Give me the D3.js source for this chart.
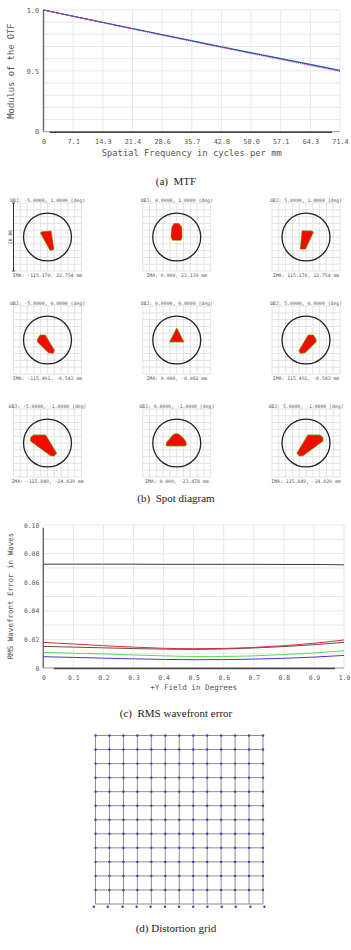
<!DOCTYPE html>
<html>
<head>
<meta charset="utf-8">
<script src="https://cdn.jsdelivr.net/npm/d3@7"></script>
<style>
  body { margin: 0; background: #fff; }
  svg { display: block; }
  .mono { font-family: "DejaVu Sans Mono", "Liberation Mono", monospace; fill: #555; }
  .caption { font-family: "Liberation Serif", "Times New Roman", serif; font-size: 11px; fill: #222; }
</style>
</head>
<body>
<svg></svg>
<script>
// (a) MTF
let mtfFreqs = [0, 7.14, 14.28, 21.42, 28.56, 35.7, 42.84, 49.98, 57.12, 64.26, 71.4]
let mtfTickLabels = ["0", "7.1", "14.3", "21.4", "28.6", "35.7", "42.8", "50.0", "57.1", "64.3", "71.4"]
let mtfYTicks = [0, 0.5, 1.0]
let mtfYLabels = ["0", "0.5", "1.0"]
let mtfYGrid = [0.1, 0.2, 0.3, 0.4, 0.5, 0.6, 0.7, 0.8, 0.9, 1.0]
let mtfCyan    = [1.0, 0.950, 0.899, 0.849, 0.799, 0.750, 0.700, 0.651, 0.603, 0.555, 0.506]
let mtfBlue    = [1.0, 0.949, 0.898, 0.847, 0.797, 0.747, 0.697, 0.648, 0.600, 0.552, 0.503]
let mtfBlack   = [1.0, 0.948, 0.897, 0.846, 0.795, 0.745, 0.695, 0.646, 0.598, 0.549, 0.500]
let mtfMagenta = [1.0, 0.947, 0.895, 0.843, 0.792, 0.741, 0.691, 0.641, 0.592, 0.543, 0.494]

// (b) spot diagram
let spotObj = ["OBJ: -5.0000, 1.0000 (deg)", "OBJ: 0.0000, 1.0000 (deg)", "OBJ: 5.0000, 1.0000 (deg)",
               "OBJ: -5.0000, 0.0000 (deg)", "OBJ: 0.0000, 0.0000 (deg)", "OBJ: 5.0000, 0.0000 (deg)",
               "OBJ: -5.0000, -1.0000 (deg)", "OBJ: 0.0000, -1.0000 (deg)", "OBJ: 5.0000, -1.0000 (deg)"]
let spotIma = ["IMA: -115.170, 22.754 mm", "IMA: 0.000, 23.139 mm", "IMA: 115.170, 22.754 mm",
               "IMA: -115.491, -0.543 mm", "IMA: 0.000, -0.082 mm", "IMA: 115.491, -0.543 mm",
               "IMA: -115.849, -24.029 mm", "IMA: 0.000, -23.478 mm", "IMA: 115.849, -24.029 mm"]
// spot outlines in micrometres, relative to chief ray
let spotShapes = [
  [[-2.0, 1.2], [-1.6, 1.5], [1.0, 1.7], [1.8, -3.6], [0.8, -3.9]],
  [[-0.8, 3.9], [0.6, 3.9], [1.4, 2.8], [1.5, 0], [1.2, -0.9], [-1.2, -0.9], [-1.6, 0], [-1.4, 2.8]],
  [[2.1, 1.4], [1.7, 1.7], [-1.1, 1.8], [-1.6, -3.5], [-0.2, -3.5]],
  [[-2.9, 0.2], [-2.1, 1.4], [-0.7, 1.4], [2.0, -3.1], [1.6, -3.9], [0.3, -3.7], [-2.9, -0.5]],
  [[0, 3.4], [-2.0, -0.5], [2.0, -0.5]],
  [[2.9, 0.2], [2.1, 1.4], [0.7, 1.4], [-2.0, -3.1], [-1.6, -3.9], [-0.3, -3.7], [2.9, -0.5]],
  [[-4.9, 1.6], [-4.1, 2.3], [-0.6, 2.3], [2.6, -3.0], [1.8, -3.8], [0.8, -3.6], [-4.9, 0.6]],
  [[-3.1, -0.7], [-2.9, 0.2], [-2.0, 1.2], [-1.0, 2.4], [-0.2, 2.7], [0.6, 2.5], [1.8, 1.5], [2.6, 0.4], [2.8, -0.5], [2.4, -0.8], [-2.6, -0.8]],
  [[4.9, 1.6], [4.1, 2.3], [0.6, 2.3], [-2.6, -3.0], [-1.8, -3.8], [-0.8, -3.6], [4.9, 0.6]]
]
let spotGrid = [-10, -8, -6, -4, -2, 0, 2, 4, 6, 8, 10]
let airyRadius = 7.05
let scaleBarLabel = "20.00"

// (c) RMS wavefront error
let rmsField = [0, 0.1, 0.2, 0.3, 0.4, 0.5, 0.6, 0.7, 0.8, 0.9, 1.0]
let rmsXLabels = ["0", "0.1", "0.2", "0.3", "0.4", "0.5", "0.6", "0.7", "0.8", "0.9", "1.0"]
let rmsYTicks = [0, 0.02, 0.04, 0.06, 0.08, 0.10]
let rmsYLabels = ["0", "0.02", "0.04", "0.06", "0.08", "0.10"]
let rmsYGrid = [0.01, 0.02, 0.03, 0.04, 0.05, 0.06, 0.07, 0.08, 0.09, 0.10]
let rmsBlack = [0.0726, 0.0726, 0.0726, 0.0726, 0.0725, 0.0725, 0.0725, 0.0725, 0.0724, 0.0724, 0.0721]
let rmsRed   = [0.0179, 0.0168, 0.0156, 0.0146, 0.0138, 0.0135, 0.0137, 0.0144, 0.0156, 0.0173, 0.0196]
let rmsDark  = [0.0151, 0.0146, 0.0141, 0.0136, 0.0132, 0.0130, 0.0133, 0.0140, 0.0150, 0.0163, 0.0179]
let rmsGreen = [0.0109, 0.0104, 0.0098, 0.0091, 0.0085, 0.0081, 0.0081, 0.0085, 0.0094, 0.0105, 0.0121]
let rmsBlue  = [0.0079, 0.0074, 0.0069, 0.0064, 0.0060, 0.0058, 0.0059, 0.0062, 0.0068, 0.0076, 0.0088]

// (d) distortion grid
let distIdx = [-6, -5, -4, -3, -2, -1, 0, 1, 2, 3, 4, 5, 6]
let distBottomDx = [-0.12, -0.12, -0.05, -0.05, -0.05, -0.02, -0.02, 0, 0.02, 0.05, 0.05, 0.1, 0.1]
let distBottomDy = -0.2

let width = 351
let height = 950
let svg = d3.select("svg").attr("width", width).attr("height", height)

let drawMtf = () => {
  let x = d3.scaleLinear().domain([0, 71.4]).range([43.5, 340])
  let y = d3.scaleLinear().domain([0, 1]).range([131.7, 10])
  let g = svg.append("g")

  g.selectAll(".vgrid").data(mtfFreqs.slice(1)).enter().append("line")
   .attr("x1", d => x(d)).attr("x2", d => x(d)).attr("y1", y(0)).attr("y2", y(1))
   .attr("stroke", "#e2e2e2").attr("stroke-width", 0.8)
  g.selectAll(".hgrid").data(mtfYGrid).enter().append("line")
   .attr("x1", x(0)).attr("x2", x(71.4)).attr("y1", d => y(d)).attr("y2", d => y(d))
   .attr("stroke", "#e2e2e2").attr("stroke-width", 0.8)

  // axis frame
  g.append("line").attr("x1", x(0)).attr("x2", x(0)).attr("y1", y(1)).attr("y2", y(0))
   .attr("stroke", "#666").attr("stroke-width", 1.4)
  g.append("line").attr("x1", x(0)).attr("x2", x(71.4)).attr("y1", y(0)).attr("y2", y(0))
   .attr("stroke", "#999").attr("stroke-width", 1)
  g.append("line").attr("x1", x(1.5)).attr("x2", x(69.5)).attr("y1", y(0) + 0.5).attr("y2", y(0) + 0.5)
   .attr("stroke", "#444").attr("stroke-width", 1.6)

  let line = d3.line().x((d, i) => x(mtfFreqs[i])).y(d => y(d))
  let series = [
    {v: mtfCyan, c: "#2cc6c6", dash: null},
    {v: mtfBlue, c: "#3a3ad8", dash: null},
    {v: mtfBlack, c: "#333", dash: "1.2,1"},
    {v: mtfMagenta, c: "#d040c8", dash: "1,1"}
  ]
  g.selectAll(".mtf").data(series).enter().append("path")
   .attr("d", d => line(d.v)).attr("fill", "none")
   .attr("stroke", d => d.c).attr("stroke-width", 0.9)
   .attr("stroke-dasharray", d => d.dash)
  // purple over the start where the curves overlap
  g.append("path").attr("d", line(mtfBlack.slice(0, 3))).attr("fill", "none")
   .attr("stroke", "#9a48b0").attr("stroke-width", 1)

  let xAxis = d3.axisBottom(x).tickValues(mtfFreqs).tickFormat((d, i) => mtfTickLabels[i]).tickSize(0).tickPadding(7)
  let gx = g.append("g").attr("transform", "translate(0," + y(0) + ")").call(xAxis)
  gx.select(".domain").remove()
  gx.selectAll("text").attr("class", "mono").style("font-size", "6.8px")

  let yAxis = d3.axisLeft(y).tickValues(mtfYTicks).tickFormat((d, i) => mtfYLabels[i]).tickSize(0).tickPadding(4.5)
  let gy = g.append("g").attr("transform", "translate(" + x(0) + ",0)").call(yAxis)
  gy.select(".domain").remove()
  gy.selectAll("text").attr("class", "mono").style("font-size", "6.8px")

  g.append("text").attr("class", "mono").attr("x", (x(0) + x(71.4)) / 2).attr("y", 155.5)
   .attr("text-anchor", "middle").style("font-size", "8.8px").text("Spatial Frequency in cycles per mm")
  g.append("text").attr("class", "mono").attr("transform", "translate(14,71) rotate(-90)")
   .attr("text-anchor", "middle").style("font-size", "8.8px").text("Modulus of the OTF")
}

let drawSpots = () => {
  let colX = d3.scalePoint().domain([0, 1, 2]).range([47.5, 306])
  let rowY = d3.scalePoint().domain([0, 1, 2]).range([237, 443])
  let sx = d3.scaleLinear().domain([-10, 10]).range([-34, 34])
  let sy = d3.scaleLinear().domain([-10, 10]).range([34, -34])

  spotShapes.forEach((shape, k) => {
    let cx = colX(k % 3)
    let cy = rowY(Math.floor(k / 3))
    let g = svg.append("g").attr("transform", "translate(" + cx + "," + cy + ")")

    g.selectAll(".sv").data(spotGrid).enter().append("line")
     .attr("x1", d => sx(d)).attr("x2", d => sx(d)).attr("y1", sy(-10)).attr("y2", sy(10))
     .attr("stroke", "#dcdcdc").attr("stroke-width", 0.8)
    g.selectAll(".sh").data(spotGrid).enter().append("line")
     .attr("x1", sx(-10)).attr("x2", sx(10)).attr("y1", d => sy(d)).attr("y2", d => sy(d))
     .attr("stroke", "#dcdcdc").attr("stroke-width", 0.8)

    g.append("circle").attr("r", sx(airyRadius)).attr("fill", "none")
     .attr("stroke", "#222").attr("stroke-width", 1.3)

    let pts = shape.map(p => [sx(p[0]), sy(p[1])].join(",")).join(" ")
    g.append("polygon").attr("points", pts).attr("fill", "#5c5").attr("stroke", "#6d3").attr("stroke-width", 1.4)
     .attr("stroke-linejoin", "round")
    g.append("polygon").attr("points", pts).attr("fill", "#f20c00").attr("stroke", "#f20c00").attr("stroke-width", 0.3)

    g.append("text").attr("class", "mono").attr("x", 0).attr("y", -35.5)
     .attr("text-anchor", "middle").style("font-size", "4.8px").text(spotObj[k])
    g.append("text").attr("class", "mono").attr("x", 0).attr("y", 39.5)
     .attr("text-anchor", "middle").style("font-size", "4.8px").text(spotIma[k])

    if (k === 0) {
      g.append("line").attr("x1", sx(-10)).attr("x2", sx(-10)).attr("y1", sy(10)).attr("y2", sy(-10))
       .attr("stroke", "#333").attr("stroke-width", 1)
      g.append("line").attr("x1", sx(-10) - 1.5).attr("x2", sx(-10) + 1.5).attr("y1", sy(10)).attr("y2", sy(10))
       .attr("stroke", "#333").attr("stroke-width", 0.8)
      g.append("line").attr("x1", sx(-10) - 1.5).attr("x2", sx(-10) + 1.5).attr("y1", sy(-10)).attr("y2", sy(-10))
       .attr("stroke", "#333").attr("stroke-width", 0.8)
      g.append("text").attr("class", "mono").attr("transform", "translate(" + (sx(-10) - 1.5) + ",0) rotate(-90)")
       .attr("text-anchor", "middle").style("font-size", "4.8px").text(scaleBarLabel)
    }
  })

  svg.append("text").attr("class", "caption").attr("x", 176).attr("y", 502)
   .attr("text-anchor", "middle").attr("xml:space", "preserve").text("(b)  Spot diagram")
}

let drawRms = () => {
  let x = d3.scaleLinear().domain([0, 1]).range([43.3, 344])
  let y = d3.scaleLinear().domain([0, 0.1]).range([668, 525])
  let g = svg.append("g")

  g.selectAll(".vgrid").data(rmsField.slice(1)).enter().append("line")
   .attr("x1", d => x(d)).attr("x2", d => x(d)).attr("y1", y(0)).attr("y2", y(0.1))
   .attr("stroke", "#e2e2e2").attr("stroke-width", 0.8)
  g.selectAll(".hgrid").data(rmsYGrid).enter().append("line")
   .attr("x1", x(0)).attr("x2", x(1)).attr("y1", d => y(d)).attr("y2", d => y(d))
   .attr("stroke", "#e2e2e2").attr("stroke-width", 0.8)

  g.append("line").attr("x1", x(0)).attr("x2", x(0)).attr("y1", y(0.098)).attr("y2", y(0))
   .attr("stroke", "#666").attr("stroke-width", 1.4)
  g.append("line").attr("x1", x(0)).attr("x2", x(1)).attr("y1", y(0)).attr("y2", y(0))
   .attr("stroke", "#999").attr("stroke-width", 1)
  g.append("line").attr("x1", x(0.035)).attr("x2", x(0.97)).attr("y1", y(0) + 0.5).attr("y2", y(0) + 0.5)
   .attr("stroke", "#444").attr("stroke-width", 1.6)

  let line = d3.line().curve(d3.curveMonotoneX).x((d, i) => x(rmsField[i])).y(d => y(d))
  let series = [
    {v: rmsBlack, c: "#3a3a3a"},
    {v: rmsBlue, c: "#3a3ad8"},
    {v: rmsGreen, c: "#5bd95b"},
    {v: rmsDark, c: "#6b4a4a"},
    {v: rmsRed, c: "#d83030"}
  ]
  g.selectAll(".rms").data(series).enter().append("path")
   .attr("d", d => line(d.v)).attr("fill", "none")
   .attr("stroke", d => d.c).attr("stroke-width", 1)

  let xAxis = d3.axisBottom(x).tickValues(rmsField).tickFormat((d, i) => rmsXLabels[i]).tickSize(0).tickPadding(7)
  let gx = g.append("g").attr("transform", "translate(0," + y(0) + ")").call(xAxis)
  gx.select(".domain").remove()
  gx.selectAll("text").attr("class", "mono").style("font-size", "6.4px")

  let yAxis = d3.axisLeft(y).tickValues(rmsYTicks).tickFormat((d, i) => rmsYLabels[i]).tickSize(0).tickPadding(4)
  let gy = g.append("g").attr("transform", "translate(" + x(0) + ",0)").call(yAxis)
  gy.select(".domain").remove()
  gy.selectAll("text").attr("class", "mono").style("font-size", "6.4px")

  g.append("text").attr("class", "mono").attr("x", (x(0) + x(1)) / 2).attr("y", 690)
   .attr("text-anchor", "middle").style("font-size", "7.6px").text("+Y Field in Degrees")
  g.append("text").attr("class", "mono").attr("transform", "translate(12.5,596) rotate(-90)")
   .attr("text-anchor", "middle").style("font-size", "7.5px").text("RMS Wavefront Error in Waves")

  svg.append("text").attr("class", "caption").attr("x", 176).attr("y", 717)
   .attr("text-anchor", "middle").attr("xml:space", "preserve").text("(c)  RMS wavefront error")
}

let drawDistortion = () => {
  let x = d3.scaleLinear().domain([-6, 6]).range([95.5, 263])
  let y = d3.scaleLinear().domain([6, -6]).range([735.5, 904])
  let g = svg.append("g")

  g.selectAll(".dv").data(distIdx).enter().append("line")
   .attr("x1", d => x(d)).attr("x2", d => x(d)).attr("y1", y(6)).attr("y2", y(-6))
   .attr("stroke", "#808080").attr("stroke-width", 0.9)
  g.selectAll(".dh").data(distIdx).enter().append("line")
   .attr("x1", x(-6)).attr("x2", x(6)).attr("y1", d => y(d)).attr("y2", d => y(d))
   .attr("stroke", "#808080").attr("stroke-width", 0.9)

  let dots = []
  distIdx.forEach(r => distIdx.forEach((c, ci) => {
    let dx = r === -6 ? distBottomDx[ci] : 0
    let dy = r === -6 ? distBottomDy : 0
    dots.push([c + dx, r + dy])
  }))
  g.selectAll(".dot").data(dots).enter().append("circle")
   .attr("cx", d => x(d[0])).attr("cy", d => y(d[1])).attr("r", 1.2)
   .attr("fill", "#3c3cd4")

  svg.append("text").attr("class", "caption").attr("x", 176).attr("y", 932)
   .attr("text-anchor", "middle").text("(d) Distortion grid")
}

drawMtf()
svg.append("text").attr("class", "caption").attr("x", 176).attr("y", 185)
   .attr("text-anchor", "middle").attr("xml:space", "preserve").text("(a)  MTF")
drawSpots()
drawRms()
drawDistortion()
</script>
</body>
</html>
